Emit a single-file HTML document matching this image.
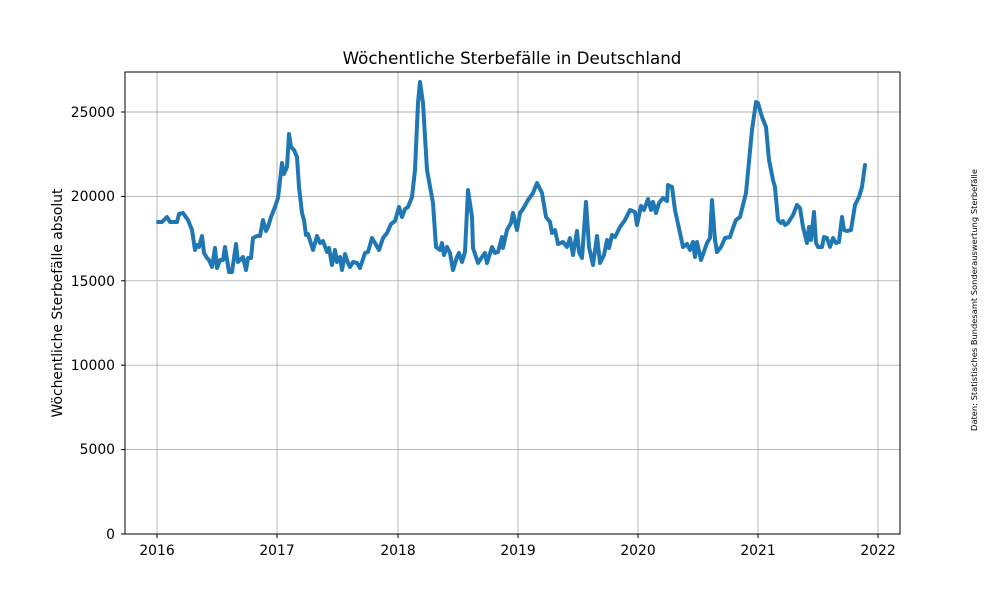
<!DOCTYPE html>
<html><head><meta charset="utf-8"><style>body{margin:0;background:#fff}svg{display:block;font-family:"DejaVu Sans","Liberation Sans",sans-serif}</style></head><body>
<svg width="1000" height="600" viewBox="0 0 1000 600">
<rect width="1000" height="600" fill="#fff"/>
<g stroke="#b0b0b0" stroke-width="0.9">
<line x1="157" y1="72" x2="157" y2="534"/><line x1="277" y1="72" x2="277" y2="534"/><line x1="398" y1="72" x2="398" y2="534"/><line x1="518" y1="72" x2="518" y2="534"/><line x1="638" y1="72" x2="638" y2="534"/><line x1="758" y1="72" x2="758" y2="534"/><line x1="878" y1="72" x2="878" y2="534"/>
<line x1="125" y1="112" x2="900" y2="112"/><line x1="125" y1="196.4" x2="900" y2="196.4"/><line x1="125" y1="280.8" x2="900" y2="280.8"/><line x1="125" y1="365.2" x2="900" y2="365.2"/><line x1="125" y1="449.6" x2="900" y2="449.6"/>
</g>
<polyline fill="none" stroke="#1f77b4" stroke-width="4" stroke-linejoin="round" stroke-linecap="round" points="158,222 162,222 167,217 170,222 177,222 179,214 183,213 188,220 192,230 195,250 197,245 199,247 202,236 204,253 207,258 209,260 212,267 215,248 217,268 220,260 223,260 225,247 229,272 232,272 236,244 238,262 243,257 246,270 248,258 251,258 253,238 257,236 260,236 263,220 266,231 268,227 271,217 275,207 278,198 282,163 284,174 287,167 289,134 291,147 294,150 297,157 299,187 302,213 304,220 306,235 308,234 313,250 317,236 320,243 323,241 327,252 329,248 332,265 335,250 337,262 340,257 342,270 345,254 348,263 350,267 353,262 357,263 360,268 365,253 368,252 372,238 375,243 379,250 383,238 387,233 391,224 395,221 399,207 402,217 405,209 408,207 412,197 415,170 418,103 420,82 423,103 427,170 433,203 436,247 440,250 442,243 444,255 447,247 450,253 453,270 457,257 459,253 462,262 465,252 468,190 472,217 473,248 478,263 482,257 485,253 487,263 492,247 495,253 498,252 502,237 503,248 507,230 511,223 513,213 517,230 520,213 523,209 528,200 533,193 537,183 542,193 546,217 550,222 552,233 555,230 558,244 563,242 567,247 570,238 573,255 577,231 579,252 582,258 586,202 589,247 593,265 597,236 600,263 604,255 607,240 609,248 612,235 615,237 620,227 625,220 630,210 635,212 637,225 641,206 644,210 648,199 651,210 653,202 656,213 659,203 663,198 667,201 668,185 672,187 675,210 680,233 683,247 687,244 690,250 693,242 695,257 697,242 701,260 707,243 710,238 712,200 715,240 717,252 721,247 725,238 730,237 733,228 736,220 740,217 746,193 752,130 756,102 758,103 762,117 766,127 769,160 773,180 775,187 778,220 781,223 783,221 785,225 788,223 793,215 797,205 800,208 803,227 807,243 809,227 811,240 814,212 816,243 818,247 822,247 824,237 827,238 830,247 833,238 836,243 839,242 842,217 844,230 847,231 851,230 855,205 859,197 862,187 865,165"/>
<rect x="125" y="72" width="775" height="462" fill="none" stroke="#000" stroke-width="1"/>
<g stroke="#000" stroke-width="1">
<line x1="157" y1="534" x2="157" y2="538"/><line x1="277" y1="534" x2="277" y2="538"/><line x1="398" y1="534" x2="398" y2="538"/><line x1="518" y1="534" x2="518" y2="538"/><line x1="638" y1="534" x2="638" y2="538"/><line x1="758" y1="534" x2="758" y2="538"/><line x1="878" y1="534" x2="878" y2="538"/>
<line x1="121" y1="112" x2="125" y2="112"/><line x1="121" y1="196.4" x2="125" y2="196.4"/><line x1="121" y1="280.8" x2="125" y2="280.8"/><line x1="121" y1="365.2" x2="125" y2="365.2"/><line x1="121" y1="449.6" x2="125" y2="449.6"/><line x1="121" y1="534" x2="125" y2="534"/>
</g>
<g font-size="13.9" fill="#000" text-anchor="middle">
<text x="157" y="555">2016</text><text x="277" y="555">2017</text><text x="398" y="555">2018</text><text x="518" y="555">2019</text><text x="638" y="555">2020</text><text x="758" y="555">2021</text><text x="878" y="555">2022</text>
</g>
<g font-size="13.9" fill="#000" text-anchor="end">
<text x="115" y="117">25000</text><text x="115" y="201">20000</text><text x="115" y="286">15000</text><text x="115" y="370">10000</text><text x="115" y="454">5000</text><text x="115" y="539">0</text>
</g>
<text x="512" y="64" font-size="16.7" text-anchor="middle">Wöchentliche Sterbefälle in Deutschland</text>
<text transform="translate(62,303) rotate(-90)" font-size="13.9" text-anchor="middle">Wöchentliche Sterbefälle absolut</text>
<text transform="translate(977,300) rotate(-90)" font-size="8.3" text-anchor="middle">Daten: Statistisches Bundesamt Sonderauswertung Sterbefälle</text>
</svg>
</body></html>
